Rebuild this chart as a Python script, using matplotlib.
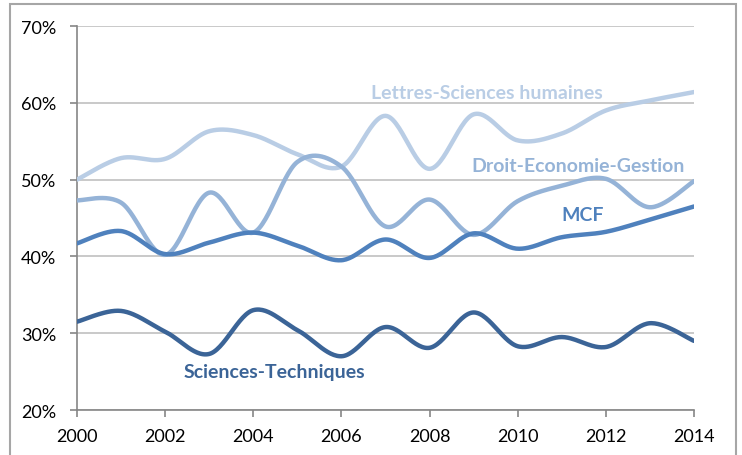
import matplotlib as mpl
mpl.use("Agg")
import matplotlib.pyplot as plt
import numpy as np
from matplotlib.patches import Rectangle

plt.rcParams["font.family"] = ["Lato", "DejaVu Sans"]

# ── Data (share of women, %) ─────────────────────────────────────────────────
years = list(range(2000, 2015))
lettres = [50.0, 52.8, 52.7, 56.3, 55.8, 53.3, 51.7, 58.3, 51.4, 58.5, 55.1, 56.0, 59.0, 60.3, 61.4]
droit = [47.3, 47.0, 40.2, 48.3, 43.1, 52.3, 51.7, 43.9, 47.4, 42.8, 47.2, 49.2, 50.1, 46.4, 49.8]
mcf = [41.7, 43.3, 40.3, 41.8, 43.1, 41.4, 39.5, 42.2, 39.8, 43.0, 41.0, 42.5, 43.2, 44.8, 46.5]
sciences = [31.5, 32.9, 30.2, 27.3, 33.0, 30.4, 27.0, 30.8, 28.1, 32.7, 28.3, 29.5, 28.2, 31.3, 29.0]

series = [
    ("Lettres-Sciences humaines", lettres, "#b9cde5", (2009.30, 61.3)),
    ("Droit-Economie-Gestion", droit, "#95b3d7", (2011.37, 51.9)),
    ("MCF", mcf, "#4f81bd", (2011.48, 45.4)),
    ("Sciences-Techniques", sciences, "#3b6497", (2004.49, 24.95)),
]


def smooth(x, y, n=30):
    """Excel-like smoothed line (Catmull-Rom through the points)."""
    x = np.asarray(x, float)
    y = np.asarray(y, float)
    px = np.concatenate([[x[0]], x, [x[-1]]])
    py = np.concatenate([[y[0]], y, [y[-1]]])
    t = np.linspace(0, 1, n)
    xs, ys = [], []
    for i in range(1, len(px) - 2):
        p0 = np.array([px[i], py[i]])
        p3 = np.array([px[i + 1], py[i + 1]])
        c1 = p0 + (p3 - np.array([px[i - 1], py[i - 1]])) / 6
        c2 = p3 - (np.array([px[i + 2], py[i + 2]]) - p0) / 6
        b = ((1 - t) ** 3)[:, None] * p0 + (3 * (1 - t) ** 2 * t)[:, None] * c1 \
            + (3 * (1 - t) * t ** 2)[:, None] * c2 + (t ** 3)[:, None] * p3
        xs.append(b[:, 0])
        ys.append(b[:, 1])
    return np.concatenate(xs), np.concatenate(ys)


fig = plt.figure(figsize=(7.42, 4.56), dpi=100)
ax = fig.add_axes([77 / 742, 1 - 411 / 456, 617 / 742, 384 / 456])

# outer frame of the chart object
fig.patches.append(Rectangle((10 / 742, -0.05), 726 / 742, 1.05 - 5 / 456,
                             transform=fig.transFigure, fill=False,
                             ec="#a6a6a6", lw=1.5))

for label, vals, color, (tx, ty) in series:
    sx, sy = smooth(years, vals)
    ax.plot(sx, sy, color=color, lw=3.2, solid_capstyle="round", zorder=3)
    ax.text(tx, ty, label, color=color, fontsize=14, fontweight="bold",
            ha="center", va="center")

ax.set_xlim(2000, 2014)
ax.set_ylim(20, 70)
ax.set_xticks(range(2000, 2015, 2))
ax.set_yticks(range(20, 71, 10))
ax.set_yticklabels([f"{v}%" for v in range(20, 71, 10)])
ax.grid(axis="y", color="#c0c0c0", lw=1.2)
ax.set_axisbelow(True)

for s in ("top", "right"):
    ax.spines[s].set_visible(False)
for s in ("left", "bottom"):
    ax.spines[s].set_color("#868686")
    ax.spines[s].set_linewidth(1.2)

ax.tick_params(axis="both", colors="#868686", labelcolor="black",
               labelsize=13, length=5, width=1.2)
ax.tick_params(axis="y", pad=10)
ax.tick_params(axis="x", pad=8)

fig.savefig("out.png", dpi=100)
